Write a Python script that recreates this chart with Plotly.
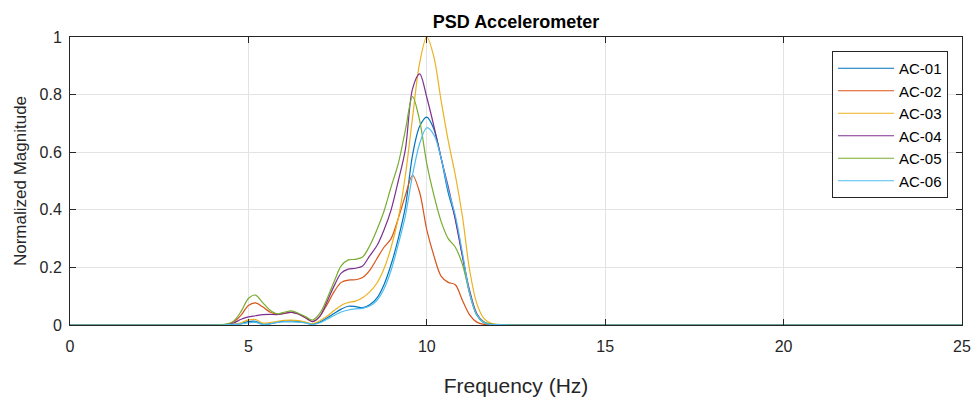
import plotly.graph_objects as go

# Frequency grid (Hz) for the spectra
freq = [0.0, 4.0, 4.2, 4.4, 4.6, 4.8, 5.0, 5.2, 5.4, 5.6, 5.8, 6.0, 6.2, 6.4, 6.6, 6.8,
        7.0, 7.2, 7.4, 7.6, 7.8, 8.0, 8.2, 8.4, 8.6, 8.8, 9.0, 9.2, 9.4, 9.6, 9.8,
        10.0, 10.2, 10.4, 10.6, 10.8, 11.0, 11.2, 11.4, 11.6, 11.8, 12.0, 12.4, 13.0, 25.0]

ac01 = [0, 0, 0, 0.001, 0.002, 0.005, 0.012, 0.013, 0.003, 0.004, 0.009, 0.013, 0.014, 0.012, 0.008, 0.003,
        0.010, 0.024, 0.040, 0.055, 0.065, 0.064, 0.060, 0.070, 0.093, 0.140, 0.210, 0.300, 0.410, 0.590, 0.690,
        0.722, 0.680, 0.580, 0.460, 0.370, 0.240, 0.110, 0.035, 0.008, 0.002, 0.001, 0, 0, 0]
ac02 = [0, 0, 0, 0.002, 0.012, 0.035, 0.068, 0.077, 0.063, 0.045, 0.037, 0.040, 0.045, 0.038, 0.025, 0.012,
        0.030, 0.070, 0.115, 0.148, 0.156, 0.157, 0.165, 0.190, 0.230, 0.270, 0.300, 0.370, 0.450, 0.520, 0.460,
        0.330, 0.240, 0.170, 0.148, 0.140, 0.085, 0.035, 0.010, 0.002, 0.001, 0, 0, 0, 0]
ac03 = [0, 0, 0, 0.001, 0.003, 0.008, 0.018, 0.019, 0.007, 0.008, 0.012, 0.016, 0.017, 0.015, 0.010, 0.005,
        0.015, 0.030, 0.050, 0.068, 0.078, 0.083, 0.095, 0.115, 0.145, 0.195, 0.270, 0.370, 0.520, 0.720, 0.910,
        1.000, 0.930, 0.780, 0.640, 0.520, 0.376, 0.191, 0.075, 0.023, 0.006, 0.002, 0, 0, 0]
ac04 = [0, 0, 0, 0.002, 0.008, 0.020, 0.028, 0.032, 0.036, 0.037, 0.036, 0.040, 0.044, 0.038, 0.025, 0.012,
        0.030, 0.080, 0.135, 0.180, 0.194, 0.197, 0.205, 0.240, 0.275, 0.330, 0.400, 0.500, 0.610, 0.820, 0.872,
        0.790, 0.690, 0.580, 0.480, 0.365, 0.237, 0.120, 0.040, 0.010, 0.002, 0.001, 0, 0, 0]
ac05 = [0, 0, 0.001, 0.003, 0.015, 0.048, 0.092, 0.104, 0.078, 0.052, 0.039, 0.044, 0.049, 0.041, 0.029, 0.017,
        0.040, 0.090, 0.150, 0.205, 0.226, 0.228, 0.236, 0.275, 0.330, 0.395, 0.480, 0.560, 0.677, 0.793, 0.710,
        0.560, 0.450, 0.360, 0.300, 0.270, 0.210, 0.110, 0.035, 0.010, 0.003, 0.001, 0, 0, 0]
ac06 = [0, 0, 0, 0.001, 0.002, 0.004, 0.008, 0.009, 0.002, 0.004, 0.009, 0.011, 0.011, 0.010, 0.007, 0.002,
        0.008, 0.020, 0.033, 0.045, 0.052, 0.056, 0.058, 0.066, 0.085, 0.125, 0.190, 0.280, 0.380, 0.520, 0.630,
        0.685, 0.660, 0.580, 0.470, 0.380, 0.250, 0.110, 0.035, 0.008, 0.002, 0.001, 0, 0, 0]

names = ["AC-01", "AC-02", "AC-03", "AC-04", "AC-05", "AC-06"]
series = [ac01, ac02, ac03, ac04, ac05, ac06]
colors = ["#0072BD", "#D95319", "#EDB120", "#7E2F8E", "#77AC30", "#4DBEEE"]

x_ticks = [0, 5, 10, 15, 20, 25]
y_ticks = [0, 0.2, 0.4, 0.6, 0.8, 1.0]
y_tick_text = ["0", "0.2", "0.4", "0.6", "0.8", "1"]

FONT = "Liberation Sans, Arial, Helvetica, sans-serif"
AXIS = "#262626"

fig = go.Figure()
for name, vals, col in zip(names, series, colors):
    fig.add_trace(go.Scatter(
        x=freq, y=vals, name=name, mode="lines",
        line=dict(color=col, width=1.2, shape="spline", smoothing=0.9),
    ))

fig.update_layout(
    width=975, height=403,
    margin=dict(l=70, r=13, t=37, b=78, autoexpand=False),
    paper_bgcolor="white", plot_bgcolor="white",
    font=dict(family=FONT, color=AXIS, size=15),
    title=dict(text="<b>PSD Accelerometer</b>", x=516 / 975, xanchor="center",
               y=1 - 22 / 403, yanchor="middle", yref="container",
               font=dict(size=18, color="black", family=FONT)),
    legend=dict(x=(832 - 70) / 892, y=(325 - 51) / 288, xanchor="left", yanchor="top",
                bgcolor="white", bordercolor=AXIS, borderwidth=1,
                font=dict(size=15, color="black", family=FONT),
                itemwidth=56, tracegroupgap=0),
    showlegend=True,
)

fig.update_xaxes(
    range=[0, 25], tickvals=x_ticks, ticktext=[str(t) for t in x_ticks],
    showline=True, linecolor=AXIS, linewidth=1, mirror="ticks",
    ticks="inside", ticklen=6, tickcolor=AXIS, automargin=False,
    showgrid=True, gridcolor="#e3e3e3", gridwidth=1, zeroline=False,
    tickfont=dict(size=16, color=AXIS), ticklabelstandoff=7,
    title=dict(text="Frequency (Hz)", font=dict(size=21, color=AXIS), standoff=24),
)
fig.update_yaxes(
    range=[0, 1], tickvals=y_ticks, ticktext=y_tick_text,
    showline=True, linecolor=AXIS, linewidth=1, mirror="ticks",
    ticks="inside", ticklen=6, tickcolor=AXIS, automargin=False,
    showgrid=True, gridcolor="#e3e3e3", gridwidth=1, zeroline=False,
    tickfont=dict(size=16, color=AXIS), ticklabelstandoff=4,
    title=dict(text="Normalized Magnitude", font=dict(size=17, color=AXIS), standoff=8),
)

fig.write_html("out.html")
